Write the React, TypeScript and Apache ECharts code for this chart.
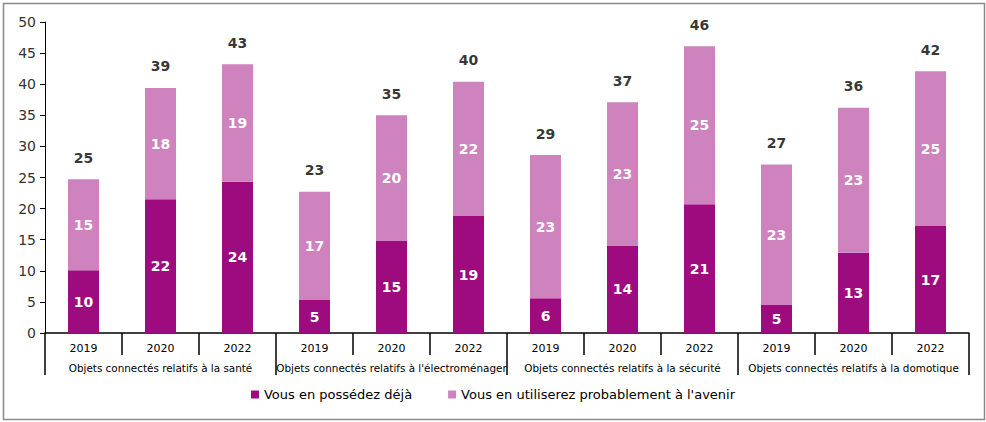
import React, { useEffect, useRef } from "react";
import * as echarts from "echarts";

const years = ["2019", "2020", "2022", "2019", "2020", "2022", "2019", "2020", "2022", "2019", "2020", "2022"];
const groups = [
  "Objets connectés relatifs à la santé",
  "Objets connectés relatifs à l'électroménager",
  "Objets connectés relatifs à la sécurité",
  "Objets connectés relatifs à la domotique",
];
const possedez = [10.1, 21.5, 24.3, 5.3, 14.8, 18.8, 5.6, 14.0, 20.7, 4.5, 12.9, 17.2];
const utiliserez = [14.6, 17.9, 18.9, 17.4, 20.2, 21.6, 23.0, 23.1, 25.4, 22.6, 23.3, 24.9];
const seriesNames = ["Vous en possédez déjà", "Vous en utiliserez probablement à l'avenir"];

const FONT = "DejaVu Sans, Verdana, sans-serif";

export default function App() {
  const ref = useRef<HTMLDivElement>(null);
  useEffect(() => {
    if (!ref.current) return;
    const chart = echarts.init(ref.current, null, { renderer: "svg" });
    const totals = possedez.map((v, i) => +(v + utiliserez[i]).toFixed(2));
    chart.setOption({
      animation: false,
      textStyle: { fontFamily: FONT },
      graphic: [
        {
          type: "rect",
          shape: { x: 3.5, y: 3.5, width: 981, height: 416 },
          style: { fill: "none", stroke: "#8a8a8a", lineWidth: 1.5 },
          silent: true,
        },
      ],
      grid: { left: 45, right: 17, top: 22, bottom: 89, containLabel: false },
      legend: {
        data: seriesNames,
        bottom: 16,
        left: "center",
        itemWidth: 8,
        itemHeight: 8,
        itemGap: 36,
        icon: "rect",
        textStyle: { fontFamily: FONT, fontSize: 13, color: "#000" },
      },
      xAxis: [
        {
          type: "category",
          data: years,
          position: "bottom",
          axisLine: { show: true, lineStyle: { color: "#000", width: 1.5 } },
          axisTick: { show: true, length: 22, interval: 0, lineStyle: { color: "#000", width: 1.5 } },
          axisLabel: { interval: 0, fontSize: 11, color: "#000", margin: 10, fontFamily: FONT },
        },
        {
          type: "category",
          data: groups,
          position: "bottom",
          offset: 22,
          axisLine: { show: false },
          axisTick: { show: true, length: 20, interval: 0, lineStyle: { color: "#000", width: 1.5 } },
          axisLabel: { interval: 0, fontSize: 10.4, color: "#000", margin: 8, fontFamily: FONT },
        },
      ],
      yAxis: {
        type: "value",
        min: 0,
        max: 50,
        interval: 5,
        axisLine: { show: true, lineStyle: { color: "#000", width: 1 } },
        axisTick: { show: true, length: 5, lineStyle: { color: "#000" } },
        splitLine: { show: false },
        axisLabel: { fontSize: 14, color: "#333", margin: 9, fontFamily: FONT },
      },
      series: [
        {
          name: seriesNames[0],
          type: "bar",
          stack: "s",
          xAxisIndex: 0,
          barWidth: 31,
          data: possedez,
          itemStyle: { color: "#9E0B7F" },
          label: {
            show: true,
            position: "inside",
            color: "#fff",
            fontWeight: "bold",
            fontSize: 14,
            fontFamily: FONT,
            formatter: (p: any) => String(Math.round(p.value)),
          },
        },
        {
          name: seriesNames[1],
          type: "bar",
          stack: "s",
          xAxisIndex: 0,
          barWidth: 31,
          data: utiliserez,
          itemStyle: { color: "#CE82BE" },
          label: {
            show: true,
            position: "inside",
            color: "#fff",
            fontWeight: "bold",
            fontSize: 14,
            fontFamily: FONT,
            formatter: (p: any) => String(Math.round(p.value)),
          },
        },
        {
          name: "total",
          type: "scatter",
          xAxisIndex: 0,
          data: totals,
          symbolSize: 1,
          itemStyle: { color: "rgba(0,0,0,0)" },
          silent: true,
          label: {
            show: true,
            position: "top",
            distance: 14,
            color: "#000",
            fontWeight: "bold",
            fontSize: 14,
            fontFamily: FONT,
            formatter: (p: any) => String(Math.round(p.value)),
          },
        },
      ],
    });
    return () => chart.dispose();
  }, []);
  return (
    <div
      ref={ref}
      style={{ position: "fixed", left: 0, top: 0, width: 986, height: 422, background: "#fff" }}
    />
  );
}
